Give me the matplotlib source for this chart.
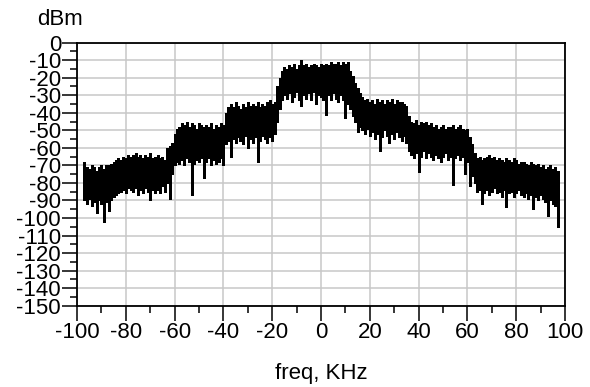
import matplotlib
matplotlib.use('Agg')
import matplotlib.pyplot as plt
from matplotlib.ticker import MultipleLocator
import numpy as np

plt.rcParams['axes.unicode_minus'] = False
plt.rcParams['font.family'] = ['Liberation Sans Narrow', 'Liberation Sans', 'DejaVu Sans']

# spectrum at 1 kHz steps: upper and lower edge of the noise band (dBm)
freq = np.arange(-97, 98)
upper = [
    -68, -71, -72, -70, -71, -73, -71, -70, -72, -70,   # -97 .. -88
    -70, -69, -68, -67, -66, -67, -65, -66, -64, -65,   # -87 .. -78
    -64, -63, -65, -64, -66, -64, -65, -63, -66, -65,   # -77 .. -68
    -64, -66, -65, -67, -60, -59, -57, -52, -49, -48,   # -67 .. -58
    -46, -47, -45, -48, -46, -47, -49, -46, -47, -48,   # -57 .. -48
    -47, -48, -46, -49, -47, -48, -46, -47, -40, -37,   # -47 .. -38
    -35, -37, -34, -36, -38, -35, -37, -34, -36, -35,   # -37 .. -28
    -36, -34, -37, -35, -36, -34, -33, -35, -34, -25,   # -27 .. -18
    -20, -16, -14, -15, -13, -14, -12, -15, -13, -10,   # -17 .. -8
    -13, -12, -14, -13, -12, -13, -14, -12, -13, -12,   # -7 .. 2
    -13, -11, -12, -12, -11, -13, -11, -12, -11, -16,   # 3 .. 12
    -19, -23, -26, -29, -31, -33, -32, -34, -33, -35,   # 13 .. 22
    -32, -34, -33, -35, -33, -34, -32, -35, -33, -34,   # 23 .. 32
    -34, -35, -36, -42, -45, -46, -44, -47, -45, -46,   # 33 .. 42
    -45, -47, -46, -48, -47, -49, -48, -47, -49, -48,   # 43 .. 52
    -48, -47, -49, -48, -47, -49, -50, -49, -54, -58,   # 53 .. 62
    -63, -66, -65, -67, -66, -65, -64, -66, -65, -67,   # 63 .. 72
    -66, -67, -68, -66, -67, -68, -66, -67, -69, -68,   # 73 .. 82
    -68, -69, -70, -68, -69, -70, -69, -71, -70, -72,   # 83 .. 92
    -71, -70, -72, -71, -73,                            # 93 .. 97
]
lower = [
    -90, -92, -89, -93, -91, -97, -90, -92, -102, -91,
    -96, -90, -88, -87, -86, -85, -84, -86, -83, -84,
    -85, -83, -87, -84, -86, -83, -85, -90, -84, -86,
    -84, -86, -82, -85, -80, -89, -75, -70, -68, -69,
    -67, -70, -66, -68, -87, -69, -67, -68, -66, -77,
    -68, -66, -70, -67, -69, -68, -66, -70, -58, -56,
    -65, -55, -57, -54, -56, -58, -53, -60, -55, -57,
    -54, -68, -56, -53, -55, -57, -54, -56, -52, -45,
    -38, -33, -30, -32, -29, -34, -31, -28, -33, -36,
    -30, -32, -29, -33, -28, -35, -30, -31, -33, -41,
    -30, -33, -29, -32, -34, -30, -33, -43, -35, -38,
    -42, -45, -51, -48, -50, -52, -49, -53, -51, -55,
    -52, -62, -54, -50, -53, -57, -52, -55, -51, -54,
    -56, -53, -57, -62, -64, -66, -63, -74, -65, -62,
    -66, -63, -65, -67, -64, -66, -68, -65, -63, -67,
    -65, -81, -66, -64, -67, -65, -75, -68, -82, -76,
    -80, -85, -84, -92, -86, -84, -87, -85, -83, -86,
    -85, -88, -84, -94, -86, -85, -88, -86, -84, -87,
    -88, -86, -89, -87, -95, -88, -90, -87, -89, -91,
    -99, -90, -92, -93, -105,
]

xticks = np.arange(-100, 101, 20)
yticks = np.arange(-150, 1, 10)

fig = plt.figure(figsize=(5.9, 3.87), dpi=100)
ax = fig.add_axes([0.1305, 0.210, 0.8271, 0.680])

ax.vlines(freq, lower, upper, colors='black', linewidth=1.9, antialiased=False)

ax.set_xlim(-100, 100)
ax.set_ylim(-150, 0)
ax.set_xticks(xticks)
ax.set_xticklabels([str(v) for v in xticks])
ax.set_yticks(yticks)
ax.set_yticklabels([str(v) for v in yticks])
ax.xaxis.set_minor_locator(MultipleLocator(10))
ax.yaxis.set_minor_locator(MultipleLocator(5))

ax.grid(True, which='major', color='#c8c8c8', linewidth=1.1)
ax.set_axisbelow(True)
ax.tick_params(which='major', length=10.5, width=1.1, pad=1, labelsize=16)
ax.tick_params(which='minor', length=5, width=1.1)
for s in ax.spines.values():
    s.set_linewidth(1.3)

fig.text(0.0627, 0.935, 'dBm', fontsize=16, va='baseline', ha='left')
fig.text(0.544, 0.020, 'freq, KHz', fontsize=16, va='baseline', ha='center')

fig.savefig('out.png', dpi=100)
